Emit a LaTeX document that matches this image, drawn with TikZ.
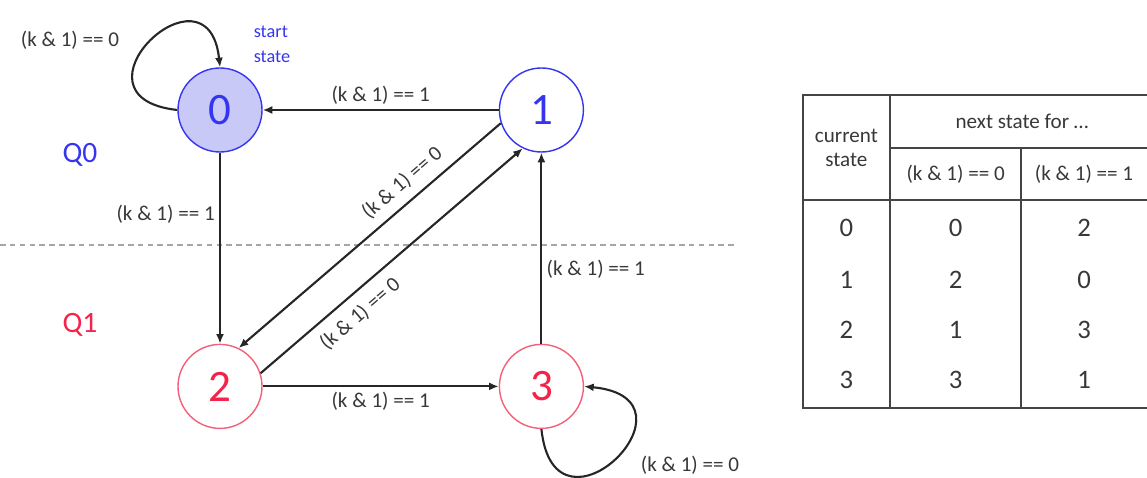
\documentclass[tikz,border=0pt]{standalone}
\usepackage{fontspec}
\setmainfont{Carlito}
\definecolor{fsmBlue}{HTML}{3535F0}
\definecolor{fsmBlueFill}{HTML}{C9C9F7}
\definecolor{fsmRed}{HTML}{F5224A}
\definecolor{fsmRedLine}{HTML}{F4607A}
\definecolor{fsmText}{HTML}{383838}
\definecolor{fsmRule}{HTML}{454545}
\usetikzlibrary{arrows.meta, positioning}

\begin{document}
\begin{tikzpicture}[
  state/.style={circle, minimum size=2.1cm, inner sep=0pt, line width=1pt,
    fill=white, font=\fontsize{32}{36}\selectfont},
  qstate/.style={state, draw=fsmBlue, text=fsmBlue},
  pstate/.style={state, draw=fsmRedLine, text=fsmRed},
  trans/.style={-{Latex[length=2.4mm,width=2mm]}, line width=1.5pt, black!85},
  cond/.style={font=\fontsize{15}{17}\selectfont, text=fsmText, inner sep=3pt},
  cell/.style={font=\fontsize{19}{22}\selectfont, text=fsmText},
  rule/.style={fsmRule, line width=1.3pt}]
  \useasboundingbox (0,0) rectangle (28.675,11.925);

  \node[qstate, fill=fsmBlueFill] (s0) at (5.5,9.175) {0};
  \node[qstate, right=5.9cm of s0] (s1) {1};
  \node[pstate, below=4.775cm of s0] (s2) {2};
  \node[pstate, below=4.775cm of s1] (s3) {3};

  \node[font=\fontsize{21}{24}\selectfont, text=fsmBlue] (q0) at (2.0,8.05) {Q0};
  \node[font=\fontsize{21}{24}\selectfont, text=fsmRed] (q1) at (2.0,3.8) {Q1};
  \node[font=\fontsize{13}{18}\selectfont, text=fsmBlue, align=left] (start) at (6.8,10.825) {start\\state};
  \draw[gray!70, line width=0.8pt, dash pattern=on 4pt off 3pt] (0,5.8) -- (18.375,5.8);

  \draw[trans] (s1) -- node[cond, above] (c10) {(k \& 1) == 1} (s0);
  \draw[trans] (s0) -- node[cond, left, pos=0.32] (c02) {(k \& 1) == 1} (s2);
  \draw[trans] (s3) -- node[cond, right, pos=0.39] (c31) {(k \& 1) == 1} (s1);
  \draw[trans] (s2) -- node[cond, below] (c23) {(k \& 1) == 1} (s3);
  \draw[trans] (s1.198) -- node[cond, sloped, above=3pt, pos=0.33] (c12) {(k \& 1) == 0} (s2.64);
  \draw[trans] (s2.18) -- node[cond, sloped, below=4pt, pos=0.33] (c21) {(k \& 1) == 0} (s1.244);
  \draw[trans] (s0.west) .. controls +(-2.95,0.325) and +(-0.3,2.8) .. (s0.north);
  \node[cond] (c00) at (1.75,10.925) {(k \& 1) == 0};
  \draw[trans] (s3.south) .. controls +(0.325,-3.1) and +(3.15,-0.3) .. (s3.east);
  \node[cond] (c33) at (17.25,0.3) {(k \& 1) == 0};

  % transition table
  \draw[rule] (28.675,9.55) -- (20.075,9.55) -- (20.075,1.725) -- (28.675,1.725);
  \draw[rule] (22.25,9.55) -- (22.25,1.725);
  \draw[rule] (25.525,8.225) -- (25.525,1.725);
  \draw[rule] (22.25,8.225) -- (28.675,8.225);
  \draw[rule, line width=1.8pt] (20.075,6.925) -- (28.675,6.925);
  \node[cond, align=center] (hcur) at (21.16,8.225) {current\\state};
  \node[cond] (hnext) at (25.55,8.9) {next state for \dots};
  \node[cond] (hzero) at (23.89,7.575) {(k \& 1) == 0};
  \node[cond] (hone) at (27.1,7.575) {(k \& 1) == 1};
  \node[cell] (r0a) at (21.16,6.225) {0}; \node[cell] (r0b) at (23.89,6.225) {0}; \node[cell] (r0c) at (27.1,6.225) {2};
  \node[cell] (r1a) at (21.16,4.925) {1}; \node[cell] (r1b) at (23.89,4.925) {2}; \node[cell] (r1c) at (27.1,4.925) {0};
  \node[cell] (r2a) at (21.16,3.675) {2}; \node[cell] (r2b) at (23.89,3.675) {1}; \node[cell] (r2c) at (27.1,3.675) {3};
  \node[cell] (r3a) at (21.16,2.425) {3}; \node[cell] (r3b) at (23.89,2.425) {3}; \node[cell] (r3c) at (27.1,2.425) {1};
\end{tikzpicture}
\end{document}
